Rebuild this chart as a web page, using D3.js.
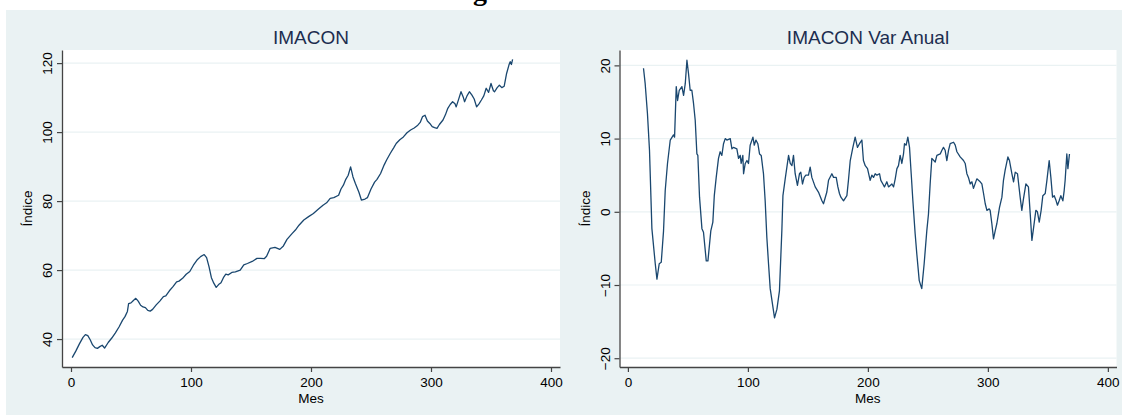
<!DOCTYPE html>
<html>
<head>
<meta charset="utf-8">
<script src="https://d3js.org/d3.v7.min.js"></script>
<style>
  body { margin: 0; background: #fff; }
  svg { display: block; font-family: "Liberation Sans", Arial, sans-serif; }
</style>
</head>
<body>
<svg width="1122" height="418"></svg>
<script>
// IMACON index, [mes, indice]
const serieIndice = [
  [1,34.6],[4,36.5],[7,38.6],[10,40.5],[12,41.3],[14,41.0],[16,39.8],[18,38.3],[20,37.5],[22,37.3],
  [24,37.8],[26,38.2],[28,37.4],[31,39.0],[34,40.3],[37,41.8],[40,43.5],[43,45.5],[45,46.5],[47,48.0],
  [48,50.3],[50,50.5],[52,51.2],[54,51.8],[56,51.0],[58,49.8],[60,49.3],[62,49.1],[64,48.3],[66,48.1],
  [68,48.6],[71,49.9],[74,51.0],[77,52.3],[79,52.5],[82,54.0],[85,55.2],[88,56.6],[90,56.8],[93,57.6],
  [96,58.8],[99,59.6],[102,61.4],[105,62.9],[108,63.9],[111,64.5],[113,63.6],[115,61.0],[117,57.8],[119,56.2],
  [121,55.0],[123,55.8],[125,56.3],[127,57.8],[129,58.8],[131,58.6],[134,59.3],[137,59.5],[141,60.0],[144,61.5],
  [147,61.9],[151,62.5],[155,63.4],[158,63.4],[161,63.3],[163,64.0],[166,66.3],[170,66.6],[174,66.0],[177,67.0],
  [180,68.9],[184,70.5],[187,71.6],[190,73.0],[194,74.5],[198,75.5],[202,76.4],[206,77.6],[210,78.8],[213,79.5],
  [216,80.8],[219,81.0],[223,81.7],[225,83.5],[227,84.6],[229,86.3],[231,87.5],[233,89.9],[235,87.0],[237,85.1],
  [240,82.5],[242,80.3],[245,80.6],[247,81.0],[250,83.5],[253,85.5],[255,86.3],[258,88.0],[261,90.5],[263,91.9],
  [266,93.8],[269,95.5],[271,96.7],[274,97.8],[277,98.6],[280,99.8],[283,100.6],[286,101.2],[289,102.0],[291,102.8],
  [293,104.5],[295,104.9],[297,103.2],[299,102.5],[301,101.6],[303,101.3],[305,101.1],[307,102.2],[310,103.5],[312,105.0],
  [314,106.9],[316,108.0],[318,108.8],[320,108.2],[321,107.3],[323,109.5],[325,111.7],[327,110.0],[328,108.8],[330,110.5],
  [332,111.7],[334,110.8],[336,109.6],[338,107.3],[340,108.2],[342,109.3],[344,110.5],[346,112.7],[348,111.5],[350,114.1],
  [352,112.0],[353,111.7],[355,112.8],[357,113.6],[359,112.9],[361,113.3],[363,117.0],[365,119.5],[366,120.4],[367,119.6],
  [368,121.1]
];

// IMACON variacion anual (%), [mes, var]
const serieVar = [
  [13,19.6],[14.4,17.5],[16.3,13.4],[18,8.4],[20,-2.3],[22.8,-7.1],[24.2,-9.2],[26.1,-7.1],[27.8,-6.9],[29.7,-2.6],
  [31.1,2.9],[33,6.6],[35.3,9.8],[38,10.5],[38.9,10.2],[40.3,17.1],[41.4,15.2],[42.8,16.6],[45,17.1],[46.4,15.9],
  [47.8,17.5],[49.2,20.7],[50.5,18.9],[51.9,16.6],[53.3,16.6],[54.7,14.8],[56.1,12.5],[57.5,7.9],[58.3,7.7],[59.7,2.0],
  [61.7,-2.3],[63,-2.8],[65.3,-6.7],[66.7,-6.7],[69.1,-2.6],[70.8,-1.4],[72,2.2],[73.6,4.7],[75.5,7.3],[76.9,8.2],
  [78.3,7.7],[79.7,9.3],[81.1,10.0],[82.5,9.8],[85.3,10.0],[86.7,8.6],[88,8.8],[90.8,8.6],[92.2,7.3],[93.6,7.7],
  [94.4,6.6],[95.8,7.7],[96.4,5.2],[97.8,6.6],[99.2,7.0],[100.5,6.6],[101.9,9.1],[104.2,10.2],[105.3,9.1],[106.7,9.8],
  [108.3,9.3],[109.7,7.9],[111.1,7.7],[113,5.2],[114.4,1.5],[115.8,-3.5],[117.2,-7.1],[118.6,-10.5],[120.5,-12.6],[122.2,-14.5],
  [124.2,-13.3],[126.3,-10.8],[128.3,-2.6],[129.2,2.2],[131.1,4.5],[132.5,6.1],[133.9,7.7],[135.3,6.6],[136.7,6.3],[138,7.7],
  [139.4,5.2],[141.3,3.6],[143,5.2],[144.1,5.4],[145.5,3.8],[146.9,4.7],[148.3,5.0],[150.5,5.0],[151.9,6.1],[153.3,4.7],
  [156.1,3.4],[158.8,2.7],[161.7,1.5],[163,1.1],[165.8,2.7],[167.2,4.3],[170,5.2],[171.4,4.7],[173.6,4.7],[175,3.4],
  [176.3,2.5],[177.5,2.0],[179.7,1.5],[182.5,2.2],[183.8,4.3],[185.3,7.0],[187.5,8.8],[189.4,10.2],[191.3,8.8],[193,9.3],
  [195,9.8],[196.3,7.0],[197.8,6.3],[199.7,5.9],[201.9,4.3],[203.3,5.0],[204.7,4.7],[206.1,5.2],[207.5,5.0],[209.7,5.2],
  [210.8,4.3],[212.5,3.8],[213.8,3.4],[215.8,4.1],[217.2,3.4],[218.6,3.6],[220,3.8],[221.4,3.4],[222.8,4.5],[224.2,5.9],
  [225.5,6.3],[226.9,7.7],[228.3,6.6],[229.7,7.9],[230.5,9.3],[231.9,9.1],[233.3,10.2],[234.7,8.8],[236.1,5.2],[237.5,1.5],
  [239.4,-3.0],[240.8,-5.8],[242.8,-9.4],[244.9,-10.5],[246.9,-7.1],[249.1,-2.6],[250.5,-0.3],[251.9,3.8],[253.3,7.3],[256.1,6.8],
  [257.5,7.7],[260.3,7.9],[261.7,8.4],[263,8.8],[264.4,8.4],[265.8,7.0],[267.2,8.4],[268.6,9.3],[271.4,9.5],[272.8,9.1],
  [274.2,8.2],[276.9,7.5],[279.7,7.0],[281.1,6.6],[282.5,5.2],[283.8,4.7],[285.3,3.8],[286.7,4.1],[288,3.2],[290.8,4.5],
  [292.2,4.3],[293.6,4.1],[295,3.8],[296.4,2.5],[297.8,1.1],[299.2,0.2],[301.1,0.4],[301.9,0.2],[303.3,-1.6],[304.7,-3.7],
  [306.1,-2.6],[307.5,-1.6],[309.7,0.6],[311.7,2.0],[313,4.3],[314.4,5.7],[316.7,7.5],[318,7.0],[320,5.2],[321.4,4.1],
  [322.8,5.4],[324.7,5.2],[326.9,2.0],[328.3,0.2],[329.7,1.8],[331.7,3.8],[333.8,3.4],[335.3,-0.3],[336.7,-3.9],[338,-2.3],
  [340,0.2],[341.3,0.0],[342.8,-1.4],[344.4,0.2],[345.8,2.2],[347.8,2.5],[349.2,4.3],[351.1,7.0],[352.5,4.7],[353.9,2.0],
  [355.3,2.2],[356.9,1.5],[358,0.9],[359.4,1.5],[360.8,2.2],[362.5,1.5],[363.6,2.9],[364.4,4.3],[365.8,7.9],[366.7,5.9],
  [368,7.9]
];

const ticksMes = [0, 100, 200, 300, 400];
const ticksIndice = [40, 60, 80, 100, 120];
const ticksVar = [-20, -10, 0, 10, 20];

const bg = "#eaf2f3";
const lineColor = "#1a476f";
const svg = d3.select("svg");

// fondo
svg.append("rect").attr("x", 6).attr("y", 10).attr("width", 1116).attr("height", 405).attr("fill", bg);
// resto del titulo de la figura, cortado arriba
svg.append("text").attr("x", 448).attr("y", 0)
  .style("font-family", "'Liberation Serif', serif").style("font-weight", "bold").style("font-size", "28px")
  .attr("fill", "#000").text("Figura");

function panel(opts) {
  const x = d3.scaleLinear().domain(opts.xDomain).range([opts.left, opts.right]);
  const y = d3.scaleLinear().domain(opts.yDomain).range([opts.bottom, opts.top]);
  const g = svg.append("g");

  g.append("rect").attr("x", opts.left).attr("y", opts.top)
    .attr("width", opts.right - opts.left).attr("height", opts.bottom - opts.top).attr("fill", "#fff");

  g.selectAll(".grid").data(opts.yTicks).enter().append("line")
    .attr("x1", opts.left).attr("x2", opts.right)
    .attr("y1", d => y(d)).attr("y2", d => y(d))
    .attr("stroke", bg).attr("stroke-width", 1.2);

  g.append("path").datum(opts.data)
    .attr("fill", "none").attr("stroke", lineColor).attr("stroke-width", 1.3)
    .attr("stroke-linejoin", "round")
    .attr("d", d3.line().x(d => x(d[0])).y(d => y(d[1])));

  const xAxis = g.append("g").attr("transform", "translate(0," + opts.bottom + ")")
    .call(d3.axisBottom(x).tickValues(opts.xTicks).tickSize(5).tickPadding(5).tickSizeOuter(0));
  xAxis.select(".domain").attr("stroke", "#444").attr("stroke-width", 1.3);
  xAxis.selectAll(".tick line").attr("stroke", "#444").attr("stroke-width", 1.2);
  xAxis.selectAll(".tick text").attr("fill", "#000").style("font-size", "13.5px")
    .style("font-family", "'Liberation Sans', Arial, sans-serif");

  const yAxis = g.append("g").attr("transform", "translate(" + opts.left + ",0)")
    .call(d3.axisLeft(y).tickValues(opts.yTicks).tickSize(5).tickSizeOuter(0));
  yAxis.select(".domain").attr("stroke", "#444").attr("stroke-width", 1.3);
  yAxis.selectAll(".tick line").attr("stroke", "#444").attr("stroke-width", 1.2);
  yAxis.selectAll(".tick text").attr("fill", "#000").style("font-size", "13.5px")
    .style("font-family", "'Liberation Sans', Arial, sans-serif")
    .attr("x", null).attr("dy", null)
    .attr("text-anchor", "middle")
    .attr("transform", "translate(-10,0) rotate(-90)");

  // titulo
  g.append("text").attr("x", (opts.left + opts.right) / 2).attr("y", 44)
    .attr("text-anchor", "middle").attr("fill", "#1c2d4f").style("font-size", "19px")
    .text(opts.title);
  // eje x
  g.append("text").attr("x", x(200)).attr("y", 403)
    .attr("text-anchor", "middle").attr("fill", "#000").style("font-size", "13.5px").text("Mes");
  // eje y
  g.append("text")
    .attr("transform", "translate(" + (opts.left - 30) + "," + ((opts.top + opts.bottom) / 2) + ") rotate(-90)")
    .attr("text-anchor", "middle").attr("fill", "#000").style("font-size", "13.5px").text("Índice");
}

panel({
  title: "IMACON", data: serieIndice,
  left: 62, right: 560, top: 50, bottom: 367,
  xDomain: [-7.5, 407.5], yDomain: [31.9, 123.8],
  xTicks: ticksMes, yTicks: ticksIndice
});

panel({
  title: "IMACON Var Anual", data: serieVar,
  left: 619.5, right: 1116.5, top: 50, bottom: 367,
  xDomain: [-7, 407.2], yDomain: [-21.2, 22.1],
  xTicks: ticksMes, yTicks: ticksVar
});
</script>
</body>
</html>
